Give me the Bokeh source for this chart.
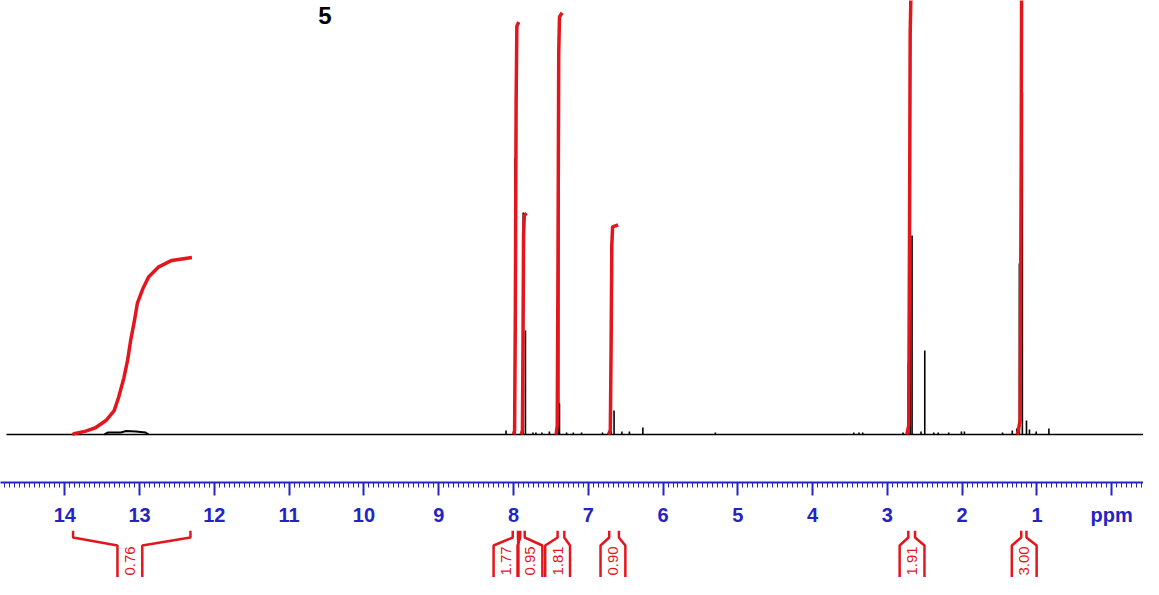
import numpy as np
from bokeh.plotting import figure
from bokeh.models import Range1d, FixedTicker, ColumnDataSource
from bokeh.layouts import column
from bokeh.core.properties import value
from bokeh.embed import file_html
from bokeh.resources import INLINE

# ---------------- data ----------------
# chemical shift axis (ppm)
tick_values = list(range(0, 15))
tick_label_overrides = {0: "ppm"}

# spectrum sticks: position (ppm) and intensity (arbitrary units, baseline = 0)
peak_ppm = [8.10, 7.98, 7.87, 7.84, 7.74, 7.70, 7.62, 7.52, 7.395, 7.385, 7.29, 7.20, 7.09,
            6.81, 6.695, 6.655, 6.55, 6.45, 6.27, 5.30, 3.45, 3.38, 3.33,
            2.79, 2.72, 2.695, 2.67, 2.55, 2.50, 2.38, 2.32, 2.18, 2.01, 1.97,
            1.46, 1.33, 1.27, 1.235, 1.195, 1.14, 1.10, 1.01, 0.84]
peak_height = [4, 276, 222, 104, 2, 2, 2, 3, 400, 31, 2, 2, 2,
               2, 190, 24, 3, 3, 7, 2, 2, 2, 2,
               2, 72, 374, 199, 3, 84, 2, 2, 2, 3, 3,
               2, 4, 6, 171, 342, 14, 5, 3, 6]

# broad exchangeable (COOH) hump near 13 ppm
hump_ppm = [13.47, 13.42, 13.25, 13.18, 13.05, 12.92, 12.88]
hump_height = [0, 2, 2, 3.5, 3, 2, 0]

# integrals
integral_values = [0.76, 1.77, 0.95, 1.81, 0.90, 1.91, 3.00]
integral_labels = ["0.76", "1.77", "0.95", "1.81", "0.90", "1.91", "3.00"]
integral_start = [13.89, 8.01, 7.91, 7.41, 6.72, 2.72, 1.21]
integral_end = [12.32, 7.94, 7.85, 7.32, 6.59, 2.63, 1.14]
integral_label_ppm = [13.13, 8.10, 7.78, 7.41, 6.67, 2.67, 1.17]

# integral curves: ppm and fraction of the integral reached
curve_ppm = [
    [13.90, 13.877, 13.72, 13.59, 13.45, 13.34, 13.28, 13.21, 13.16, 13.12, 13.07,
     13.03, 12.96, 12.88, 12.75, 12.57, 12.30],
    [8.00, 7.985, 7.975, 7.965, 7.955, 7.93],
    [7.895, 7.88, 7.873, 7.865, 7.855, 7.825],
    [7.43, 7.415, 7.405, 7.395, 7.385, 7.35],
    [6.73, 6.705, 6.695, 6.685, 6.675, 6.60],
    [2.74, 2.715, 2.705, 2.695, 2.685, 2.64],
    [1.26, 1.225, 1.21, 1.20, 1.19, 1.15],
]
curve_frac = [
    [0.0, 0.004, 0.019, 0.038, 0.079, 0.135, 0.21, 0.32, 0.42, 0.53, 0.64,
     0.74, 0.82, 0.89, 0.945, 0.983, 1.0],
    [0.0, 0.01, 0.3, 0.8, 0.99, 1.0],
    [0.0, 0.02, 0.4, 0.9, 0.99, 1.0],
    [0.0, 0.02, 0.4, 0.9, 0.99, 1.0],
    [0.0, 0.02, 0.4, 0.9, 0.99, 1.0],
    [0.0, 0.02, 0.4, 0.9, 0.99, 1.0],
    [0.0, 0.02, 0.4, 0.9, 0.99, 1.0],
]

compound_label = "5"
compound_label_ppm = 10.52

# ---------------- styling ----------------
BLUE = "#2424c4"
RED = "#e2161c"
INT_SCALE = 233.0          # intensity units per integral unit
X_RANGE = Range1d(14.86, -0.425)
W = 1143

# ---------------- spectrum figure ----------------
p = figure(frame_width=W, frame_height=482, x_range=X_RANGE,
           y_range=Range1d(-48, 434), output_backend="svg",
           toolbar_location=None, min_border_left=0, min_border_right=0,
           min_border_top=0, min_border_bottom=48, y_axis_location=None)
p.outline_line_color = None
p.grid.visible = False
p.background_fill_color = "white"
p.border_fill_color = "white"

minor = [round(i / 15.0, 4) for i in range(-7, 15 * 15 + 14) if i % 15 != 0]
ax = p.xaxis[0]
ax.ticker = FixedTicker(ticks=tick_values, minor_ticks=minor)
ax.major_label_overrides = tick_label_overrides
ax.axis_line_color = BLUE
ax.axis_line_width = 2
ax.major_tick_line_color = BLUE
ax.major_tick_line_width = 2
ax.major_tick_out = 13
ax.major_tick_in = 0
ax.minor_tick_line_color = BLUE
ax.minor_tick_line_width = 1
ax.minor_tick_out = 5
ax.minor_tick_in = 0
ax.major_label_standoff = 8
ax.major_label_text_font = "Liberation Sans"
ax.major_label_text_font_style = "bold"
ax.major_label_text_font_size = "20px"
ax.major_label_text_color = BLUE

# baseline
p.line(x=[X_RANGE.start - 0.08, X_RANGE.end], y=[0, 0], line_color="black", line_width=1.5)
# hump
p.line(x=hump_ppm, y=hump_height, line_color="black", line_width=2)
# sticks
p.segment(x0=peak_ppm, y0=[0] * len(peak_ppm), x1=peak_ppm, y1=peak_height,
          line_color="black", line_width=1.6)

# integral curves
xs = curve_ppm
ys = [[f * v * INT_SCALE for f in fr] for fr, v in zip(curve_frac, integral_values)]
p.multi_line(xs=xs, ys=ys, line_color=RED, line_width=3.5)

# compound number at the top
p.text(x=[compound_label_ppm], y=[428], text=[compound_label], text_font=value("Liberation Sans"),
       text_font_style="bold", text_font_size="24px", text_color="black",
       text_align="center", text_baseline="top")

# ---------------- integral bracket figure ----------------
q = figure(frame_width=W, frame_height=47, x_range=X_RANGE,
           y_range=Range1d(579, 532), output_backend="svg",
           toolbar_location=None, min_border=0,
           x_axis_location=None, y_axis_location=None)
q.outline_line_color = None
q.grid.visible = False

HW = 0.166
bx, by = [], []
for a, b, c in zip(integral_start, integral_end, integral_label_ppm):
    bx.append([a, a, c + HW, c + HW])
    by.append([532, 539, 547, 600])
    bx.append([b, b, c - HW, c - HW])
    by.append([532, 539, 547, 600])
q.multi_line(xs=bx, ys=by, line_color=RED, line_width=2.5)

src = ColumnDataSource(dict(x=integral_label_ppm, y=[577] * len(integral_labels), t=integral_labels))
q.text(x="x", y="y", text="t", source=src, angle=np.pi / 2,
       text_font=value("Liberation Sans"), text_font_size="15px", text_color=RED,
       text_align="left", text_baseline="middle")

layout = column(p, q, spacing=0)
open("out.html", "w").write(file_html(layout, INLINE))
